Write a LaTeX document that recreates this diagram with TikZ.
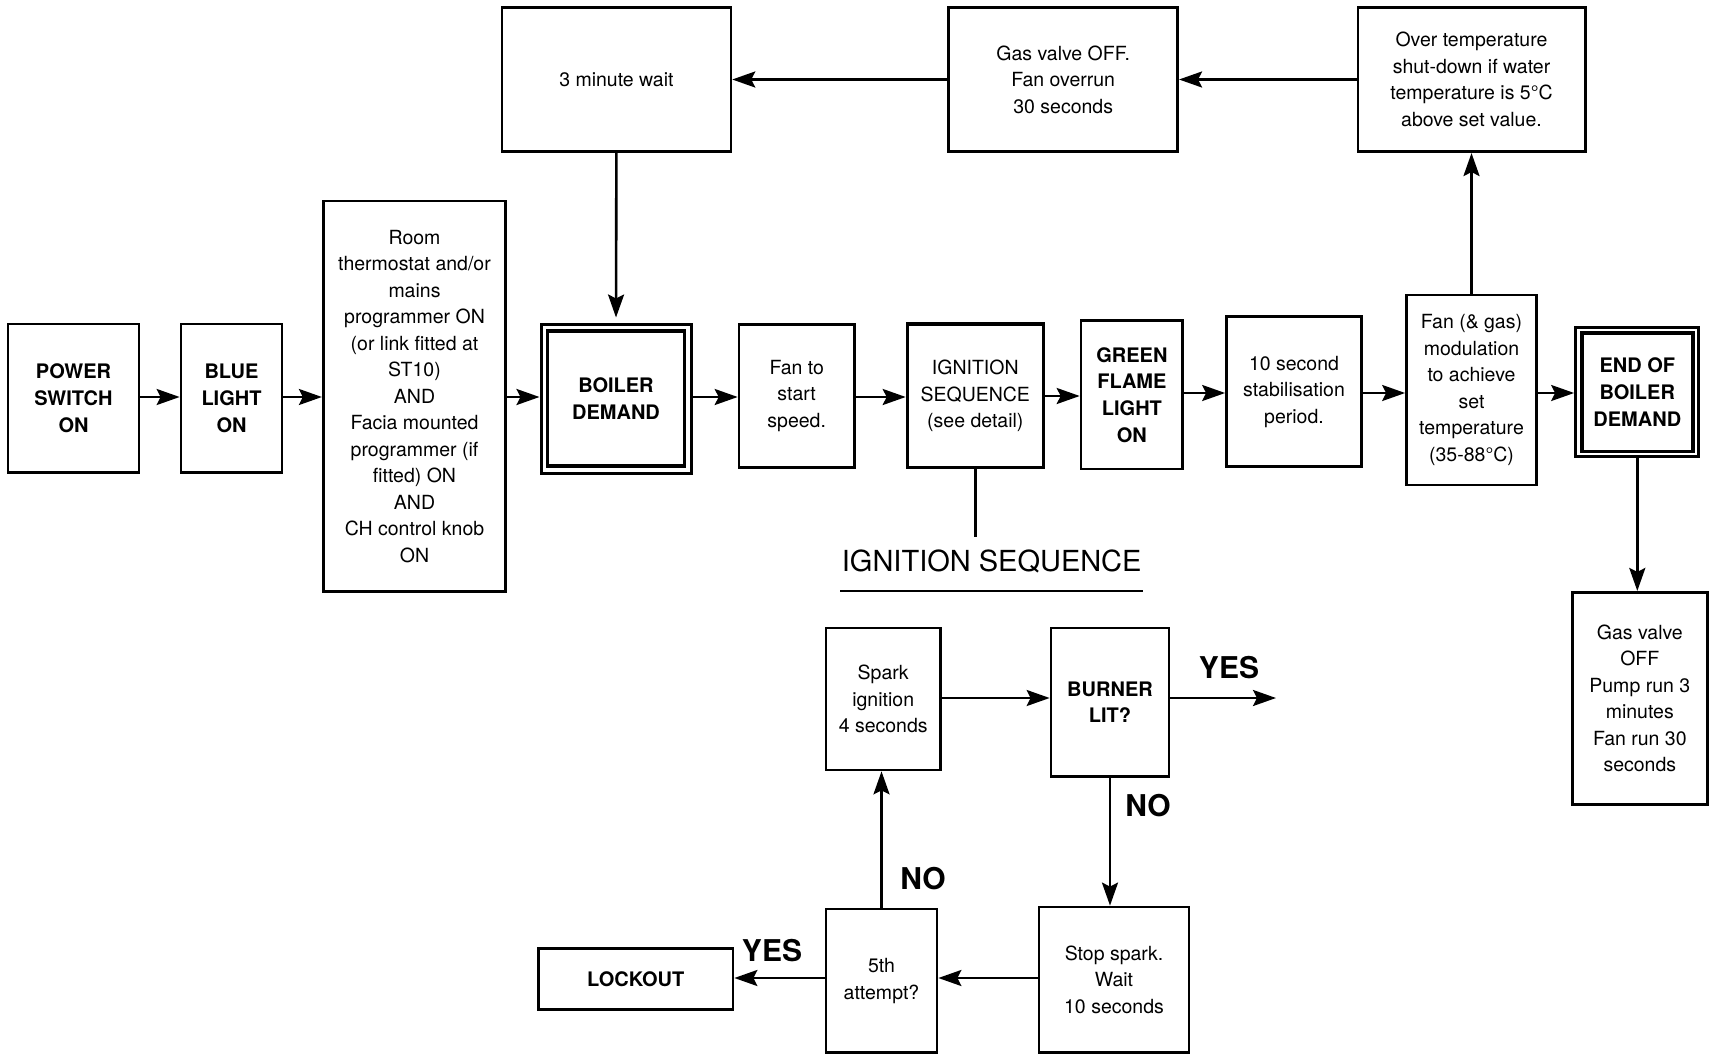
\documentclass[tikz,border=0pt]{standalone}
\usepackage{fontspec}
\setmainfont{TeX Gyre Heros}
\usetikzlibrary{arrows.meta}
\begin{document}
\begin{tikzpicture}[x=1pt,y=-1pt,
 box/.style={draw, line width=2.7pt, inner sep=0pt, align=center, font=\fontsize{19.5}{26.5}\selectfont},
 bbox/.style={box, font=\fontsize{20}{26.7}\selectfont\bfseries},
 arr/.style={line width=2.6pt, -{Stealth[length=23pt,width=16pt,inset=4pt]}},
 lbl/.style={font=\fontsize{30}{32}\selectfont\bfseries, anchor=base, inner sep=0pt},
]
\path[use as bounding box, fill=white] (0,0) rectangle (1709,1057);

% main row
\node[bbox, minimum width=131pt, minimum height=148.7pt] (power) at (73.5,398.3) {POWER\\SWITCH\\ON};
\node[bbox, minimum width=101pt, minimum height=148.7pt] (blue) at (231.5,398.3) {BLUE\\LIGHT\\ON};
\node[box, minimum width=182.5pt, minimum height=390.7pt] (room) at (414.5,396.3) {Room\\thermostat and/or\\mains\\programmer ON\\(or link fitted at\\ST10)\\AND\\Facia mounted\\programmer (if\\fitted) ON\\AND\\CH control knob\\ON};
\node[bbox, line width=3pt, minimum width=150pt, minimum height=149pt] (boiler) at (616,398.5) {BOILER\\DEMAND};
\node[draw, line width=3.7pt, minimum width=137pt, minimum height=135.5pt, inner sep=0pt] (boilerin) at (616,398.5) {};
\node[box, minimum width=115.3pt, minimum height=143.4pt] (fan) at (796.7,396) {Fan to\\start\\speed.};
\node[box, line width=3.2pt, minimum width=136pt, minimum height=143.7pt] (ign) at (975.3,395.9) {IGNITION\\SEQUENCE\\(see detail)};
\node[bbox, minimum width=101.7pt, minimum height=148.3pt] (green) at (1131.9,394.9) {GREEN\\FLAME\\LIGHT\\ON};
\node[box, minimum width=135pt, minimum height=150pt] (stab) at (1294,391.7) {10 second\\stabilisation\\period.};
\node[box, minimum width=130pt, minimum height=190pt] (fanmod) at (1471.5,390) {Fan (\& gas)\\modulation\\to achieve\\set\\temperature\\(35-88°C)};
\node[bbox, line width=3pt, minimum width=123.3pt, minimum height=129pt] (endd) at (1637.3,392.2) {END OF\\BOILER\\DEMAND};
\node[draw, line width=3.7pt, minimum width=111pt, minimum height=118.7pt, inner sep=0pt] (enddin) at (1637.3,392.2) {};
\node[box, minimum width=135pt, minimum height=212pt] (gaspump) at (1639.8,698.3) {Gas valve\\OFF\\Pump run 3\\minutes\\Fan run 30\\seconds};

% top row
\node[box, minimum width=229pt, minimum height=144.4pt] (wait) at (616.4,79.5) {3 minute wait};
\node[box, minimum width=229pt, minimum height=144.4pt] (gasfan) at (1063.2,79.5) {Gas valve OFF.\\Fan overrun\\30 seconds};
\node[box, minimum width=227.3pt, minimum height=144.4pt] (overtemp) at (1471.5,79.5) {Over temperature\\shut-down if water\\temperature is 5°C\\above set value.};

% ignition sequence detail
\node[anchor=base, inner sep=0pt, font=\fontsize{29}{30}\selectfont] (ighead) at (991.7,571.7) {IGNITION SEQUENCE};
\draw[line width=2.3pt] (840,590.7) -- (1143,590.7);
\coordinate (ignend) at (975.3,537.3);

\node[box, minimum width=114.4pt, minimum height=142pt] (spark) at (883.2,699) {Spark\\ignition\\4 seconds};
\node[bbox, minimum width=118pt, minimum height=148.7pt] (burner) at (1110,702.3) {BURNER\\LIT?};
\node[box, minimum width=150pt, minimum height=145.7pt] (stop) at (1114,979.8) {Stop spark.\\Wait\\10 seconds};
\node[box, minimum width=111pt, minimum height=143.7pt] (fifth) at (881.5,980.8) {5th\\attempt?};
\node[bbox, minimum width=194.6pt, minimum height=61pt] (lockout) at (635.7,978.8) {LOCKOUT};
\coordinate (yesend) at (1276,698);

\node[lbl] (yes1) at (1229,678.3) {YES};
\node[lbl] (no1) at (1148,816.7) {NO};
\node[lbl] (no2) at (923,889) {NO};
\node[lbl] (yes2) at (772,961.7) {YES};

% connectors main row
\draw[arr] (power.east |- 0,397) -- (blue.west |- 0,397);
\draw[arr] (blue.east |- 0,397) -- (room.west |- 0,397);
\draw[arr] (room.east |- 0,397) -- (boiler.west |- 0,397);
\draw[arr] (boiler.east |- 0,397) -- (fan.west |- 0,397);
\draw[arr] (fan.east |- 0,397) -- (ign.west |- 0,397);
\draw[arr] (ign.east |- 0,396) -- (green.west |- 0,396);
\draw[arr] (green.east |- 0,393) -- (stab.west |- 0,393);
\draw[arr] (stab.east |- 0,393) -- (fanmod.west |- 0,393);
\draw[arr] (fanmod.east |- 0,393) -- (endd.west |- 0,393);
\draw[arr] (endd.south) -- (endd.south |- gaspump.north);
\draw[arr] (fanmod.north) -- (overtemp.south);
\draw[arr] (overtemp.west) -- (gasfan.east);
\draw[arr] (gasfan.west) -- (wait.east);
\draw[arr, shorten >=5pt] (wait.south) -- (boiler.north);
\draw[line width=2.6pt] (ign.south) -- (ignend);

% connectors ignition detail
\draw[arr] (spark.east |- 0,698) -- (burner.west |- 0,698);
\draw[arr] (burner.east |- 0,698) -- (yesend);
\draw[arr] (burner.south) -- (burner.south |- stop.north);
\draw[arr] (stop.west |- 0,978) -- (fifth.east |- 0,978);
\draw[arr] (fifth.west |- 0,978) -- (lockout.east |- 0,978);
\draw[arr] (fifth.north) -- (fifth.north |- spark.south);
\end{tikzpicture}
\end{document}
